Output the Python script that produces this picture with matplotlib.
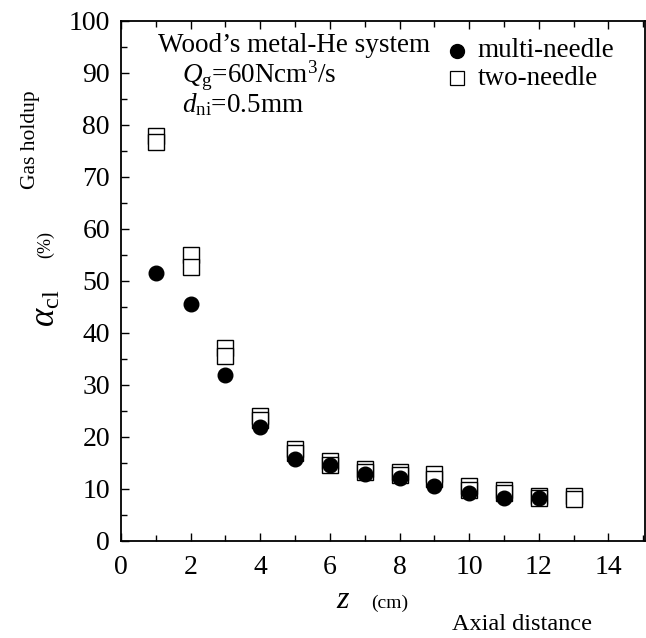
import matplotlib
matplotlib.use('Agg')
import matplotlib.pyplot as plt
from matplotlib.ticker import MultipleLocator

plt.rcParams['font.family'] = 'Liberation Serif'
plt.rcParams['mathtext.fontset'] = 'custom'
plt.rcParams['mathtext.rm'] = 'Liberation Serif'
plt.rcParams['mathtext.it'] = 'Liberation Serif:italic'

# axial distance z (cm) and gas holdup (%)
z_multi = [1, 2, 3, 4, 5, 6, 7, 8, 9, 10, 11, 12]
multi = [51.5, 45.5, 32.0, 22.0, 15.7, 14.6, 12.8, 12.2, 10.6, 9.3, 8.2, 8.2]

z_two = [1, 2, 3, 4, 5, 6, 7, 8, 9, 10, 11, 12, 13]
two_a = [77.8, 55.0, 37.2, 24.0, 17.7, 15.3, 13.8, 13.2, 12.9, 10.6, 9.8, 8.6, 8.6]
two_b = [76.8, 52.6, 35.6, 23.2, 17.0, 14.6, 13.3, 12.6, 12.0, 9.9, 9.2, 8.2, 8.0]

fig = plt.figure(figsize=(6.46, 6.38), dpi=100)
ax = fig.add_axes([121/646, 1 - 541/638, 524/646, 520/638])

ax.plot(z_two, two_a, 's', ms=11, mfc='white', mec='black', mew=1.0, zorder=2)
ax.plot(z_two, two_b, 's', ms=11, mfc='white', mec='black', mew=1.0, zorder=2)
ax.plot(z_multi, multi, 'o', ms=10.5, color='black', zorder=3)

ax.set_xlim(0, 15.05)
ax.set_ylim(0, 100)
ax.xaxis.set_major_locator(MultipleLocator(2))
ax.xaxis.set_minor_locator(MultipleLocator(1))
ax.yaxis.set_major_locator(MultipleLocator(10))
ax.yaxis.set_minor_locator(MultipleLocator(5))
ax.tick_params(which='both', direction='in', top=True, right=False, width=1)
ax.tick_params(which='major', length=6, labelsize=20)
ax.tick_params(axis='x', which='major', pad=10)
ax.tick_params(axis='y', which='major', pad=8)
ax.tick_params(which='minor', length=4)
for s in ax.spines.values():
    s.set_linewidth(1.3)

# legend, drawn by hand
ax.plot([9.65], [94.3], 'o', ms=10, color='black', clip_on=False)
ax.text(10.25, 94.3, 'multi-needle', fontsize=19.5, va='center')
ax.plot([9.65], [89.0], 's', ms=10, mfc='white', mec='black', mew=0.9, clip_on=False)
ax.text(10.25, 89.0, 'two-needle', fontsize=19.5, va='center')

# conditions
ax.text(1.05, 95.2, 'Wood\u2019s metal-He system', fontsize=19.5, va='center')
ax.text(1.75, 89.4, '$Q_{\\mathrm{g}}$=60Ncm$^3$/s', fontsize=19.5, va='center')
ax.text(1.75, 84.0, '$d_{\\mathrm{ni}}$=0.5mm', fontsize=19.5, va='center')

# axis titles
fig.text(30/646, 1 - 140/638, 'Gas holdup', rotation=90, fontsize=15.5, ha='center', va='center')
fig.text(46/646, 1 - 308/638, '$\\alpha_{\\mathrm{cl}}$', rotation=90, fontsize=25, ha='center', va='center')
fig.text(46/646, 1 - 245/638, '(%)', rotation=90, fontsize=13, ha='center', va='center')
fig.text(343/646, 1 - 600/638, '$z$', fontsize=23, ha='center', va='center')
fig.text(390/646, 1 - 603/638, '(cm)', fontsize=14, ha='center', va='center')
fig.text(522/646, 1 - 625/638, 'Axial distance', fontsize=17.5, ha='center', va='center')

fig.savefig('out.png', dpi=100)
